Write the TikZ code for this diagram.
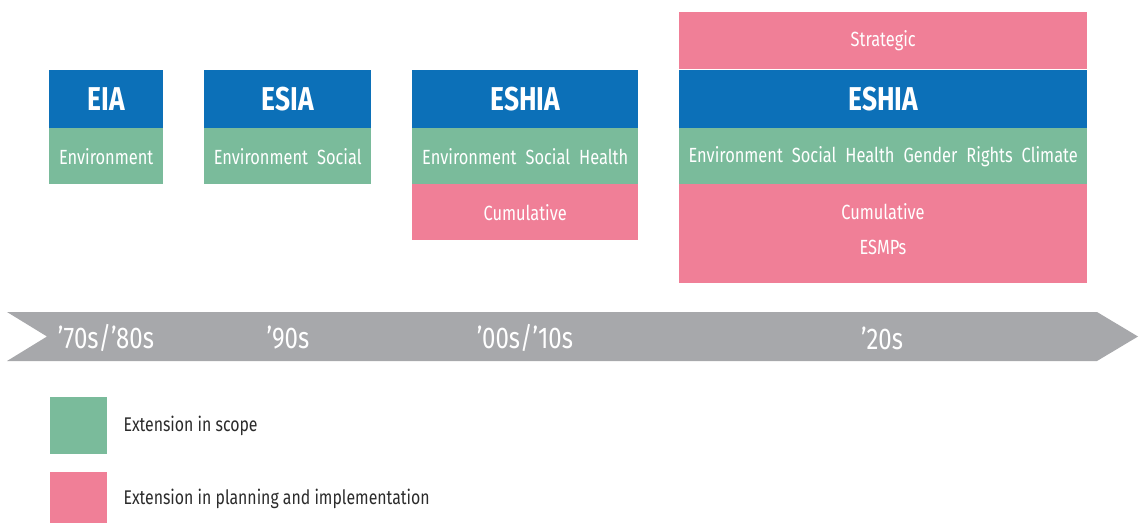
\documentclass[tikz,border=0pt]{standalone}
\usepackage{fontspec}
\setmainfont[FakeStretch=0.8]{Fira Sans}
\definecolor{cblue}{HTML}{0C70B8}
\definecolor{cgreen}{HTML}{7ABB9B}
\definecolor{cpink}{HTML}{F07F97}
\definecolor{cgray}{HTML}{A7A8AB}
\definecolor{ctext}{HTML}{2B2B2B}
\newcommand{\gap}{\hspace{9pt}}
\begin{document}
\begin{tikzpicture}[x=1pt,y=-1pt,
  box/.style={rectangle,inner sep=0pt,text=white,anchor=north west},
  title/.style={box,fill=cblue,font=\fontsize{33}{35}\selectfont\bfseries},
  scope/.style={box,fill=cgreen,font=\fontsize{20.5}{23}\selectfont},
  plan/.style={box,fill=cpink,font=\fontsize{20.5}{23}\selectfont,align=center},
  year/.style={text=white,font=\fontsize{30}{32}\selectfont},
  legtext/.style={text=ctext,anchor=west,font=\fontsize{19.8}{22}\selectfont}]
\useasboundingbox (0,0) rectangle (1140,523);
% timeline arrow
\fill[cgray] (7,312) -- (1097,312) -- (1138,336.5) -- (1097,361) -- (7,361) -- (47,336.5) -- cycle;
\node[year] (y1) at (106,338) {’70s/’80s};
\node[year] (y2) at (288,338) {’90s};
\node[year] (y3) at (525,338) {’00s/’10s};
\node[year] (y4) at (882,338) {’20s};
% EIA
\node[title,minimum width=114pt,minimum height=58pt] (eia) at (49,70) {EIA};
\node[scope,minimum width=114pt,minimum height=56pt] (eias) at (49,128) {Environment};
% ESIA
\node[title,minimum width=167pt,minimum height=58pt] (esia) at (204,70) {ESIA};
\node[scope,minimum width=167pt,minimum height=56pt] (esias) at (204,128) {Environment\gap Social};
% ESHIA mid
\node[title,minimum width=226pt,minimum height=58pt] (eshia1) at (412,70) {ESHIA};
\node[scope,minimum width=226pt,minimum height=56pt] (eshia1s) at (412,128) {Environment\gap Social\gap Health};
\node[plan,minimum width=226pt,minimum height=56pt] (eshia1p) at (412,184) {Cumulative};
% ESHIA big
\node[plan,minimum width=408pt,minimum height=57pt] (strat) at (679,12) {Strategic};
\node[title,minimum width=408pt,minimum height=58pt] (eshia2) at (679,70) {ESHIA};
\node[scope,minimum width=408pt,minimum height=56pt] (eshia2s) at (679,128) {Environment\gap Social\gap Health\gap Gender\gap Rights\gap Climate};
\node[plan,minimum width=408pt,minimum height=99pt] (eshia2p) at (679,184) {};
\node[text=white,font=\fontsize{20.5}{23}\selectfont] (cum2) at (883,212) {Cumulative};
\node[text=white,font=\fontsize{20.5}{23}\selectfont] (esmp) at (883,247) {ESMPs};
% legend
\node[box,fill=cgreen,minimum width=57pt,minimum height=57pt] (lg) at (50,397) {};
\node[box,fill=cpink,minimum width=57pt,minimum height=51pt] (lp) at (50,472) {};
\node[legtext] (lgt) at (120,426) {Extension in scope};
\node[legtext] (lpt) at (120,499) {Extension in planning and implementation};
\end{tikzpicture}
\end{document}
